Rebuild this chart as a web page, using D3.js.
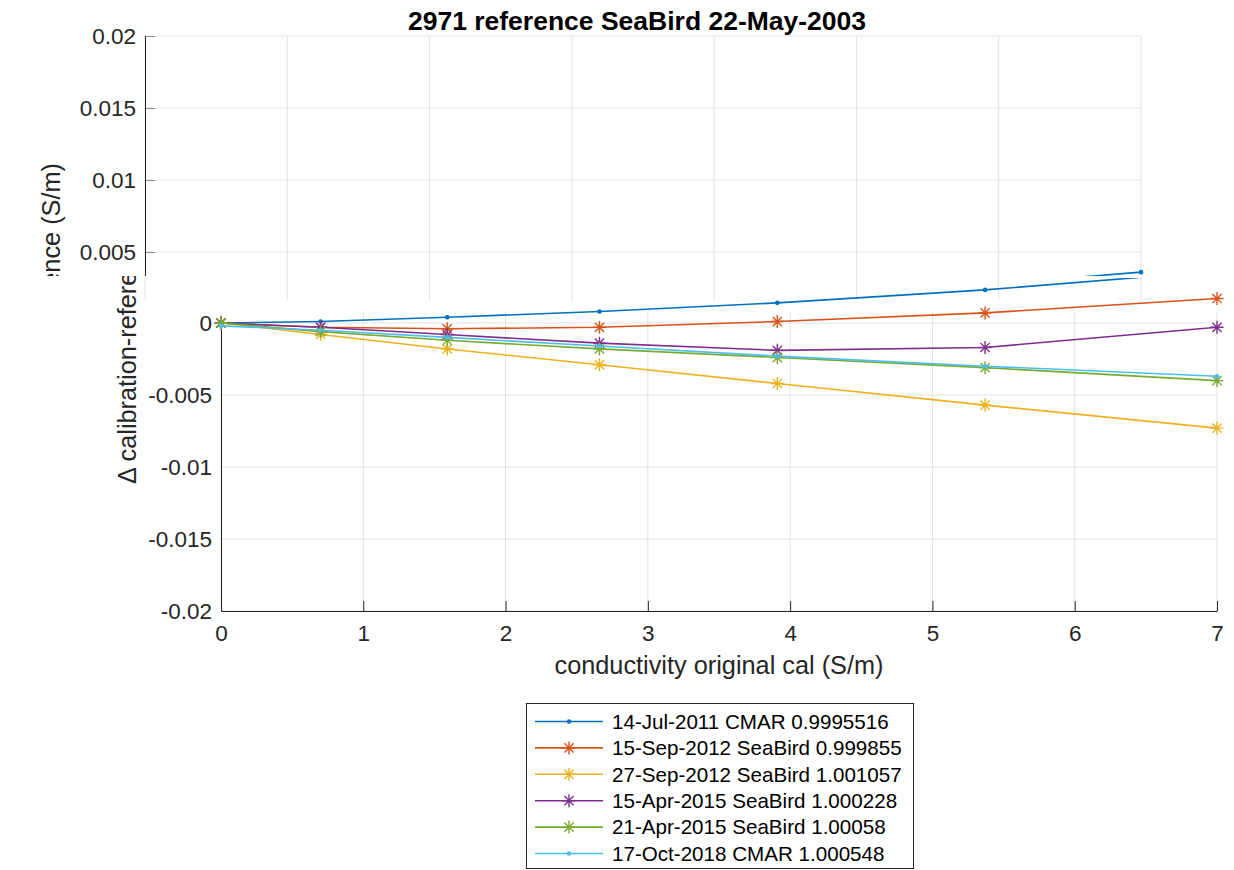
<!DOCTYPE html>
<html>
<head>
<meta charset="utf-8">
<script src="https://cdn.jsdelivr.net/npm/d3@7"></script>
<style>
  body { margin: 0; background: #fff; }
  svg { display: block; }
  text { font-family: "Liberation Sans", Arial, Helvetica, sans-serif; fill: #262626; }
</style>
</head>
<body>
<svg id="chart" width="1234" height="870"></svg>
<script>
// conductivity points (S/m) and the difference of each calibration to the reference
var xValues   = [0, 0.7, 1.59, 2.66, 3.91, 5.37, 7.0];
var cmar2011  = [0, 0.0001, 0.0004, 0.0008, 0.0014, 0.0023, 0.0036];
var sbe2012a  = [0, -0.0003, -0.0004, -0.0003, 0.0001, 0.0007, 0.0017];
var sbe2012b  = [0, -0.0008, -0.0018, -0.0029, -0.0042, -0.0057, -0.0073];
var sbe2015a  = [0, -0.0003, -0.0008, -0.0014, -0.0019, -0.0017, -0.0003];
var sbe2015b  = [0, -0.0006, -0.0012, -0.0018, -0.0024, -0.0031, -0.0040];
var cmar2018  = [-0.0002, -0.0005, -0.0010, -0.0016, -0.0023, -0.0030, -0.0037];

var seriesNames = [
  "14-Jul-2011 CMAR 0.9995516",
  "15-Sep-2012 SeaBird 0.999855",
  "27-Sep-2012 SeaBird 1.001057",
  "15-Apr-2015 SeaBird 1.000228",
  "21-Apr-2015 SeaBird 1.00058",
  "17-Oct-2018 CMAR 1.000548"
];
var seriesValues  = [cmar2011, sbe2012a, sbe2012b, sbe2015a, sbe2015b, cmar2018];
var seriesColors  = ["#0072BD", "#D95319", "#EDB120", "#7E2F8E", "#77AC30", "#4DBEEE"];
var seriesMarkers = ["dot", "star", "star", "star", "star", "dot"];

var xTicks = [0, 1, 2, 3, 4, 5, 6, 7];
var yTicks = [-0.02, -0.015, -0.01, -0.005, 0, 0.005, 0.01, 0.015, 0.02];
var yTickLabels = ["-0.02", "-0.015", "-0.01", "-0.005", "0", "0.005", "0.01", "0.015", "0.02"];

var titleText = "2971 reference SeaBird 22-May-2003";
var xLabel = "conductivity original cal (S/m)";
var yLabel = "\u0394 calibration-reference (S/m)";

var svg = d3.select("#chart");
var plotLeft = 221, plotRight = 1217, plotTop = 35, plotBottom = 611;

var x = d3.scaleLinear().domain([0, 7]).range([plotLeft, plotRight]);
var y = d3.scaleLinear().domain([-0.02, 0.02]).range([plotBottom, plotTop]);

svg.append("rect").attr("width", 1234).attr("height", 870).attr("fill", "#fff");

// the picture is made of two shifted copies of the same figure, cut at y ~ 276
var defs = svg.append("defs");
function addClip(id, y0, y1) {
  defs.append("clipPath").attr("id", id)
    .append("rect").attr("x", -300).attr("y", y0).attr("width", 1800).attr("height", y1 - y0);
}
addClip("topGrid", 0, 300);
addClip("topRest", 0, 276);
addClip("botGrid", 312, 870);
addClip("botAxis", 321, 870);
addClip("botData", 278, 870);
addClip("botText", 276, 870);

function star(g, cx, cy, color) {
  var a = 6.5, b = 4.6;
  var p = "M" + (cx - a) + "," + cy + "H" + (cx + a) +
          "M" + cx + "," + (cy - a) + "V" + (cy + a) +
          "M" + (cx - b) + "," + (cy - b) + "L" + (cx + b) + "," + (cy + b) +
          "M" + (cx - b) + "," + (cy + b) + "L" + (cx + b) + "," + (cy - b);
  g.append("path").attr("d", p).attr("stroke", color).attr("stroke-width", 1.4).attr("fill", "none");
}

function dot(g, cx, cy, color) {
  g.append("circle").attr("cx", cx).attr("cy", cy).attr("r", 2.3).attr("fill", color);
}

function layer(clipId, dx, dy) {
  return svg.append("g").attr("clip-path", "url(#" + clipId + ")")
    .append("g").attr("transform", "translate(" + dx + "," + dy + ")");
}

function drawChart(dx, dy, clips, opts) {
  // grid
  var grid = layer(clips.grid, dx, dy);
  grid.selectAll(".gx").data(xTicks).enter().append("line")
    .attr("x1", function(d){ return x(d); }).attr("x2", function(d){ return x(d); })
    .attr("y1", plotTop).attr("y2", plotBottom)
    .attr("stroke", "#e3e3e3").attr("stroke-width", 1);
  grid.selectAll(".gy").data(yTicks).enter().append("line")
    .attr("x1", plotLeft).attr("x2", plotRight)
    .attr("y1", function(d){ return y(d); }).attr("y2", function(d){ return y(d); })
    .attr("stroke", "#e3e3e3").attr("stroke-width", 1);

  // axes
  var axes = layer(clips.text, dx, dy);
  var yAxis = d3.axisLeft(y).tickValues(opts.yTickValues)
    .tickFormat(function(d){ return yTickLabels[yTicks.indexOf(d)]; })
    .tickSizeInner(-10).tickSizeOuter(0).tickPadding(9);
  var gy = axes.append("g").attr("transform", "translate(" + plotLeft + ",0)").call(yAxis);
  var list = [gy];
  if (opts.xAxis) {
    var xAxis = d3.axisBottom(x).tickValues(xTicks)
      .tickFormat(function(d){ return String(d); })
      .tickSizeInner(-10).tickSizeOuter(0).tickPadding(14);
    list.push(axes.append("g").attr("transform", "translate(0," + plotBottom + ")").call(xAxis));
  }
  list.forEach(function(a){
    a.attr("font-family", null).attr("font-size", null);
    a.select(".domain").attr("stroke", "#262626");
    a.selectAll(".tick line").attr("stroke", "#262626");
    a.selectAll(".tick text").style("font-size", "22.5px").attr("fill", "#262626");
  });
  // the left axis line of the lower copy only starts at the zero tick
  gy.select(".domain").attr("clip-path", "url(#" + clips.axis + ")");
  gy.selectAll(".tick line").attr("clip-path", "url(#" + clips.axis + ")");

  // data
  var data = layer(clips.data, dx, dy);
  var line = d3.line().x(function(d){ return x(d[0]); }).y(function(d){ return y(d[1]); });
  seriesValues.forEach(function(vals, s) {
    var pts = xValues.map(function(xv, i){ return [xv, vals[i]]; });
    var g = data.append("g");
    g.append("path").attr("d", line(pts)).attr("fill", "none")
      .attr("stroke", seriesColors[s]).attr("stroke-width", 1.6);
    pts.forEach(function(p){
      if (seriesMarkers[s] === "star") star(g, x(p[0]), y(p[1]), seriesColors[s]);
      else dot(g, x(p[0]), y(p[1]), seriesColors[s]);
    });
  });

  // title and labels
  var txt = layer(clips.text, dx, dy);
  if (opts.title) {
    txt.append("text").attr("x", (plotLeft + plotRight) / 2 - 6).attr("y", 29)
      .attr("text-anchor", "middle").style("font-size", "26.5px").style("font-weight", "bold")
      .style("fill", "#000").text(titleText);
  }
  if (opts.xAxis) {
    txt.append("text").attr("x", (plotLeft + plotRight) / 2).attr("y", 674)
      .attr("text-anchor", "middle").style("font-size", "25.3px").text(xLabel);
  }
  txt.append("text").attr("transform", "translate(136," + ((plotTop + plotBottom) / 2) + ") rotate(-90)")
    .attr("text-anchor", "middle").style("font-size", "25.3px").text(yLabel);
}

// upper copy: shows title and the positive half of the y axis
drawChart(-76, 1, { grid: "topGrid", axis: "topRest", data: "topRest", text: "topRest" },
  { title: true, xAxis: false, yTickValues: yTicks.filter(function(d){ return d > 0; }) });
// lower copy: zero and below, x axis
drawChart(0, 0, { grid: "botGrid", axis: "botAxis", data: "botData", text: "botText" },
  { title: false, xAxis: true, yTickValues: yTicks.filter(function(d){ return d <= 0; }) });

// legend
var legend = svg.append("g");
legend.append("rect").attr("x", 526.5).attr("y", 703.5).attr("width", 387).attr("height", 165)
  .attr("fill", "#fff").attr("stroke", "#262626").attr("stroke-width", 1);
seriesNames.forEach(function(name, s) {
  var cy = 721.5 + s * 26.4;
  legend.append("line").attr("x1", 535).attr("x2", 603).attr("y1", cy).attr("y2", cy)
    .attr("stroke", seriesColors[s]).attr("stroke-width", 1.6);
  if (seriesMarkers[s] === "star") star(legend, 569, cy, seriesColors[s]);
  else dot(legend, 569, cy, seriesColors[s]);
  legend.append("text").attr("x", 612).attr("y", cy).attr("dy", "0.35em")
    .style("font-size", "20.6px").style("fill", "#000").text(name);
});
</script>
</body>
</html>
